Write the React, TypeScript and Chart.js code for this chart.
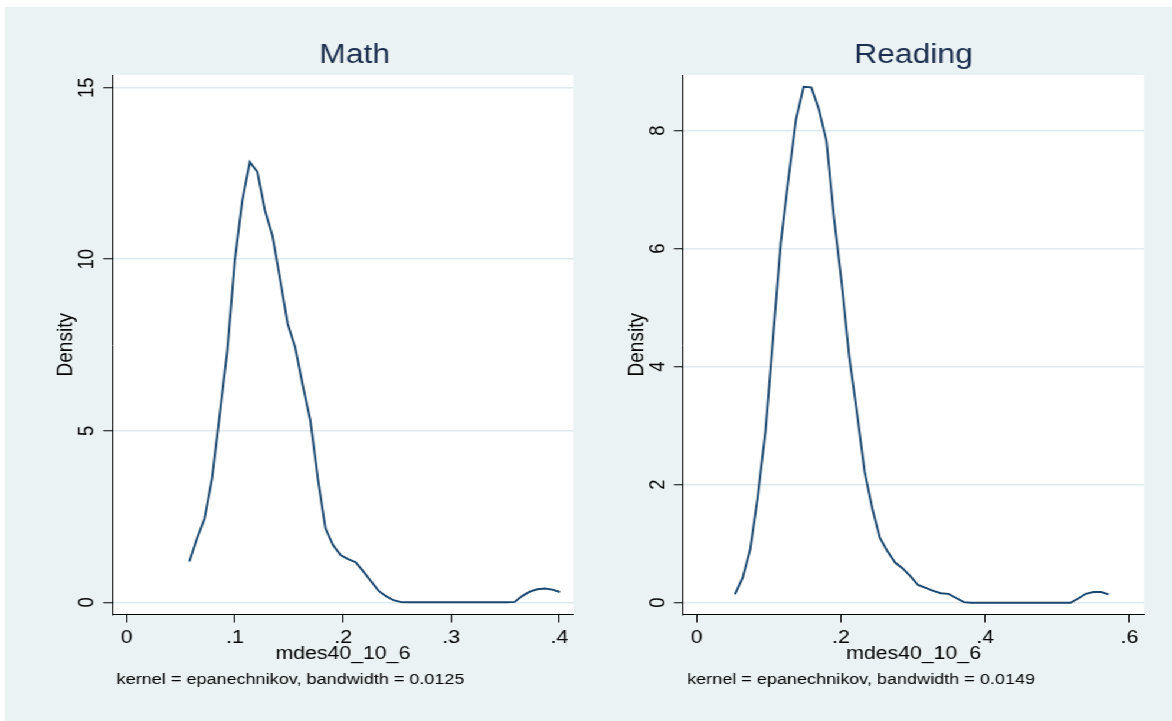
import React, { useEffect, useRef } from "react";
import { Chart, registerables } from "chart.js";

Chart.register(...registerables);

// ---------------- DATA ----------------
const mathX = [
  0.0579, 0.0649, 0.0719, 0.0789, 0.0859, 0.0929, 0.0999, 0.1068, 0.1138, 0.1208,
  0.1278, 0.1348, 0.1418, 0.1488, 0.1558, 0.1628, 0.1698, 0.1768, 0.1838, 0.1908,
  0.1977, 0.2047, 0.2117, 0.2187, 0.2257, 0.2327, 0.2397, 0.2467, 0.2537, 0.2607,
  0.2677, 0.2747, 0.2817, 0.2886, 0.2956, 0.3026, 0.3096, 0.3166, 0.3236, 0.3306,
  0.3376, 0.3446, 0.3516, 0.3586, 0.3656, 0.3726, 0.3796, 0.3865, 0.3935, 0.4005,
];
const mathDensity = [
  1.19, 1.85, 2.43, 3.6, 5.45, 7.3, 9.95, 11.7, 12.83, 12.55,
  11.42, 10.68, 9.42, 8.12, 7.43, 6.32, 5.3, 3.6, 2.15, 1.67,
  1.38, 1.26, 1.17, 0.9, 0.62, 0.34, 0.18, 0.06, 0.005, 0,
  0, 0, 0, 0, 0, 0, 0, 0, 0, 0,
  0, 0, 0, 0.01, 0.18, 0.31, 0.38, 0.4, 0.37, 0.3,
];
const readingX = [
  0.053, 0.0636, 0.0742, 0.0847, 0.0953, 0.1059, 0.1165, 0.127, 0.1376, 0.1482,
  0.1588, 0.1693, 0.1799, 0.1905, 0.2011, 0.2116, 0.2222, 0.2328, 0.2434, 0.2539,
  0.2645, 0.2751, 0.2857, 0.2962, 0.3068, 0.3174, 0.328, 0.3385, 0.3491, 0.3597,
  0.3703, 0.3808, 0.3914, 0.402, 0.4126, 0.4231, 0.4337, 0.4443, 0.4549, 0.4654,
  0.476, 0.4866, 0.4972, 0.5077, 0.5183, 0.5289, 0.5395, 0.55, 0.5606, 0.5712,
];
const readingDensity = [
  0.14, 0.42, 0.9, 1.8, 2.9, 4.5, 6.1, 7.17, 8.19, 8.74,
  8.73, 8.36, 7.82, 6.5, 5.4, 4.15, 3.22, 2.22, 1.6, 1.1,
  0.87, 0.68, 0.58, 0.45, 0.3, 0.25, 0.2, 0.16, 0.15, 0.08,
  0.01, 0, 0, 0, 0, 0, 0, 0, 0, 0,
  0, 0, 0, 0, 0, 0.07, 0.15, 0.18, 0.18, 0.14,
];
const mathXTicks = [0, 0.1, 0.2, 0.3, 0.4];
const mathYTicks = [0, 5, 10, 15];
const readingXTicks = [0, 0.2, 0.4, 0.6];
const readingYTicks = [0, 2, 4, 6, 8];
const panelTitles = ["Math", "Reading"];
const xAxisTitle = "mdes40_10_6";
const yAxisTitle = "Density";
const notes = [
  "kernel = epanechnikov, bandwidth = 0.0125",
  "kernel = epanechnikov, bandwidth = 0.0149",
];

// ---------------- STYLE / LAYOUT ----------------
const INNER_W = 993;
const H = 721;
const STRETCH = 1172 / INNER_W;
const FONT = "'Liberation Sans', Arial, Helvetica, sans-serif";
const BG = "#eaf2f3";
const GRID = "#e0e9ed";
const LINE = "#1a476f";
const TITLE_COLOR = "#1c2e4f";

const fmt = (v: number) => {
  const s = (+Number(v).toFixed(3)).toString();
  return s.startsWith("0.") ? s.slice(1) : s;
};

type PanelSpec = {
  width: number;
  bgLeft: number;
  xs: number[];
  ys: number[];
  xMin: number;
  xMax: number;
  yMin: number;
  yMax: number;
  xTicks: number[];
  yTicks: number[];
  title: string;
  titleShift: number;
  note: string;
  padLeft: number;
  padRight: number;
  yTitlePad: number;
};

function makeConfig(p: PanelSpec): any {
  const bgPlugin = {
    id: "bg",
    beforeDraw(chart: any) {
      const { ctx, chartArea: ca, width, height } = chart;
      ctx.save();
      ctx.fillStyle = "#ffffff";
      ctx.fillRect(0, 0, width, height);
      ctx.fillStyle = BG;
      ctx.fillRect(p.bgLeft, 7, width - p.bgLeft, height - 7);
      ctx.fillStyle = "#ffffff";
      ctx.fillRect(ca.left, ca.top, ca.right - ca.left, ca.bottom - ca.top);
      ctx.restore();
    },
  };
  const textPlugin = {
    id: "texts",
    afterDraw(chart: any) {
      const { ctx, chartArea: ca } = chart;
      const ys = chart.scales.y;
      ctx.save();
      // panel title
      ctx.fillStyle = TITLE_COLOR;
      ctx.font = `27px ${FONT}`;
      ctx.textAlign = "center";
      ctx.textBaseline = "middle";
      ctx.fillText(p.title, (ca.left + ca.right) / 2 + p.titleShift, 56);
      // rotated y tick labels
      ctx.fillStyle = "#000";
      ctx.font = `18.5px ${FONT}`;
      for (const v of p.yTicks) {
        const py = ys.getPixelForValue(v);
        ctx.save();
        ctx.translate(ca.left - 21.4, py);
        ctx.rotate(-Math.PI / 2);
        ctx.textAlign = "center";
        ctx.textBaseline = "middle";
        ctx.fillText(fmt(v), 0, 0);
        ctx.restore();
      }
      // note
      ctx.font = `15.3px ${FONT}`;
      ctx.textAlign = "left";
      ctx.textBaseline = "middle";
      ctx.fillText(p.note, ca.left + 3.3, 680);
      ctx.restore();
    },
  };

  return {
    type: "scatter",
    data: {
      datasets: [
        {
          data: p.xs.map((x, i) => ({ x, y: p.ys[i] })),
          showLine: true,
          borderColor: LINE,
          borderWidth: 1.9,
          pointRadius: 0,
          pointHoverRadius: 0,
          fill: false,
          tension: 0,
        },
      ],
    },
    options: {
      animation: false,
      responsive: false,
      devicePixelRatio: 1,
      events: [],
      layout: { padding: { left: p.padLeft, right: p.padRight, top: 75, bottom: 46.5 } },
      plugins: {
        legend: { display: false },
        tooltip: { enabled: false },
        title: { display: false },
      },
      scales: {
        x: {
          type: "linear",
          min: p.xMin,
          max: p.xMax,
          afterBuildTicks: (s: any) => {
            s.ticks = p.xTicks.map((v) => ({ value: v }));
          },
          afterFit: (s: any) => {
            s.height = 60;
          },
          ticks: {
            callback: (v: any) => fmt(v),
            font: { family: FONT, size: 18 },
            color: "#000",
            padding: 4.3,
            maxRotation: 0,
            minRotation: 0,
            autoSkip: false,
          },
          grid: {
            drawOnChartArea: false,
            drawTicks: true,
            tickLength: 8,
            tickColor: "#000",
            tickWidth: 1,
          },
          border: { display: true, color: "#000", width: 1 },
          title: {
            display: true,
            text: xAxisTitle,
            color: "#000",
            font: { family: FONT, size: 18 },
            padding: { top: 0, bottom: 9.7 },
          },
        },
        y: {
          type: "linear",
          min: p.yMin,
          max: p.yMax,
          afterBuildTicks: (s: any) => {
            s.ticks = p.yTicks.map((v) => ({ value: v }));
          },
          afterFit: (s: any) => {
            s.width = 55.5;
          },
          ticks: { display: false },
          grid: {
            color: GRID,
            lineWidth: 1.5,
            drawTicks: true,
            tickLength: 8,
            tickColor: "#000",
            tickWidth: 1,
          },
          border: { display: true, color: "#000", width: 1 },
          title: {
            display: true,
            text: yAxisTitle,
            color: "#000",
            font: { family: FONT, size: 19 },
            padding: { top: p.yTitlePad, bottom: 0 },
          },
        },
      },
    },
    plugins: [bgPlugin, textPlugin],
  };
}

const LEFT_W = 500;
const RIGHT_W = INNER_W - LEFT_W;

const mathPanel: PanelSpec = {
  width: LEFT_W,
  bgLeft: 4.2,
  xs: mathX,
  ys: mathDensity,
  xMin: -0.0129,
  xMax: 0.4128,
  yMin: -0.356,
  yMax: 15.37,
  xTicks: mathXTicks,
  yTicks: mathYTicks,
  title: panelTitles[0],
  titleShift: 10,
  note: notes[0],
  padLeft: 40,
  padRight: LEFT_W - 485.7,
  yTitlePad: 4.1,
};

const readingPanel: PanelSpec = {
  width: RIGHT_W,
  bgLeft: 0,
  xs: readingX,
  ys: readingDensity,
  xMin: -0.0187,
  xMax: 0.6202,
  yMin: -0.2,
  yMax: 8.94,
  xTicks: readingXTicks,
  yTicks: readingYTicks,
  title: panelTitles[1],
  titleShift: 0,
  note: notes[1],
  padLeft: 23.4,
  padRight: RIGHT_W - 469.3,
  yTitlePad: 4.7,
};

function Panel({ spec }: { spec: PanelSpec }) {
  const ref = useRef<HTMLCanvasElement | null>(null);
  useEffect(() => {
    if (!ref.current) return;
    const chart = new Chart(ref.current, makeConfig(spec));
    return () => chart.destroy();
  }, [spec]);
  return (
    <canvas
      ref={ref}
      width={spec.width}
      height={H}
      style={{ width: spec.width, height: H, display: "block" }}
    />
  );
}

export default function App() {
  return (
    <div
      style={{
        position: "absolute",
        left: 0,
        top: 0,
        width: INNER_W,
        height: H,
        display: "flex",
        transform: `scaleX(${STRETCH})`,
        transformOrigin: "0 0",
        background: "#fff",
      }}
    >
      <Panel spec={mathPanel} />
      <Panel spec={readingPanel} />
    </div>
  );
}
